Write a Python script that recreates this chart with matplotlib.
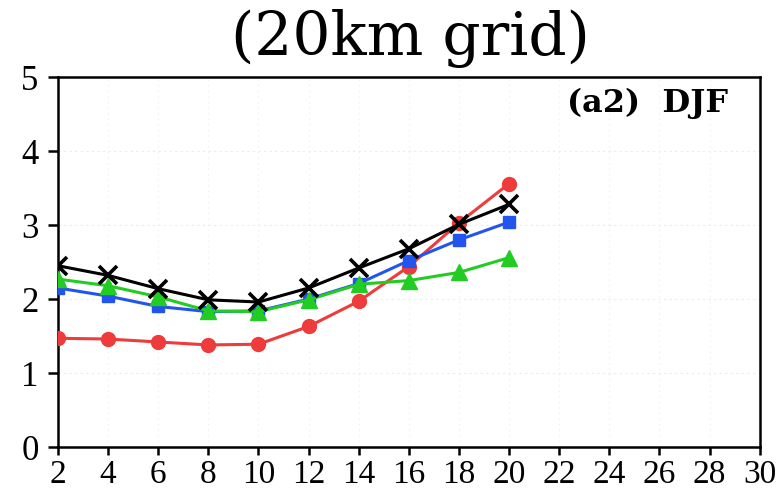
import matplotlib
matplotlib.use("Agg")
import matplotlib.pyplot as plt
import numpy as np

x = [2, 4, 6, 8, 10, 12, 14, 16, 18, 20]
red = [1.47, 1.46, 1.42, 1.38, 1.39, 1.63, 1.97, 2.44, 3.03, 3.56]
blue = [2.15, 2.04, 1.90, 1.83, 1.84, 2.00, 2.21, 2.52, 2.80, 3.04]
green = [2.27, 2.18, 2.03, 1.84, 1.83, 1.99, 2.20, 2.25, 2.36, 2.56]
black = [2.45, 2.32, 2.14, 1.99, 1.96, 2.15, 2.42, 2.68, 3.01, 3.28]
xticks = list(range(2, 31, 2))
yticks = [0, 1, 2, 3, 4, 5]
title = "(20km grid)"
panel = "(a2)  DJF"

fig = plt.figure(figsize=(7.84, 4.94), dpi=100)
ax = fig.add_axes([0.074, 0.095, 0.895, 0.749])

for xv in xticks[1:-1]:
    ax.axvline(xv, color="#ececec", lw=0.8, ls=(0, (1, 4)), zorder=0)
for yv in yticks[1:-1]:
    ax.axhline(yv, color="#ececec", lw=0.8, ls=(0, (2, 3)), zorder=0)

ax.plot(x, red, color="#ee3b3b", lw=2.2, marker="o", ms=10, mfc="#ee3b3b", mec="#ee3b3b", zorder=3)
ax.plot(x, blue, color="#2255ee", lw=2.2, marker="s", ms=9, mfc="#2255ee", mec="#2255ee", zorder=4)
ax.plot(x, green, color="#22cc22", lw=2.2, marker="^", ms=11, mfc="#22cc22", mec="#22cc22", zorder=5)
ax.plot(x, black, color="black", lw=2.2, marker="x", ms=13, mew=2.6, zorder=6)

ax.set_xlim(2, 30)
ax.set_ylim(0, 5)
ax.set_xticks(xticks)
ax.set_yticks(yticks)
ax.set_xticklabels([str(v) for v in xticks], fontfamily="Liberation Serif", fontsize=24)
ax.set_yticklabels([str(v) for v in yticks], fontfamily="Liberation Serif", fontsize=25)
ax.tick_params(axis="x", direction="out", length=6, width=1.8, pad=3)
ax.tick_params(axis="y", direction="out", length=7, width=1.8, pad=7)
for s in ax.spines.values():
    s.set_linewidth(1.8)

fig.text(0.523, 0.888, title, ha="center", va="baseline", fontfamily="DejaVu Serif", fontsize=43)
ax.text(0.955, 0.97, panel, transform=ax.transAxes, ha="right", va="top",
        fontfamily="DejaVu Serif", fontweight="bold", fontsize=23)

fig.savefig("out.png", dpi=100)
